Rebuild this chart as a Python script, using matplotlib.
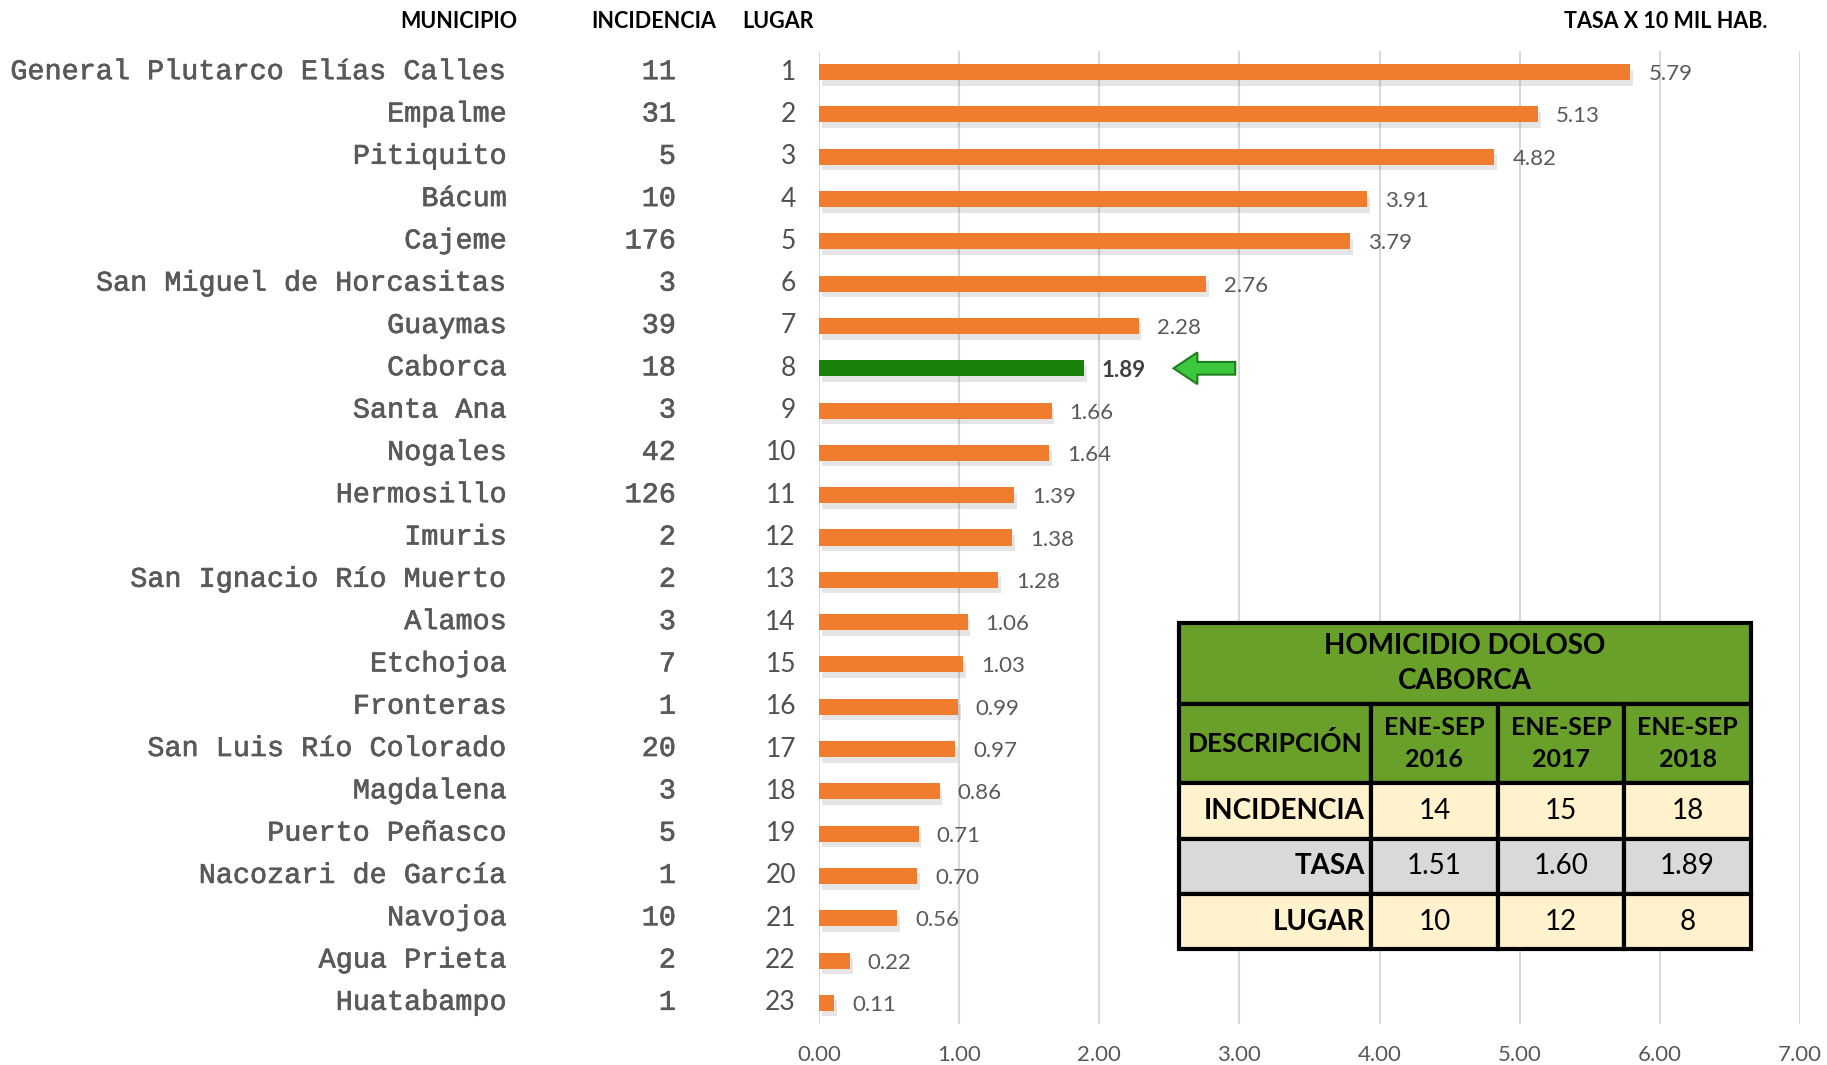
import matplotlib
matplotlib.use('Agg')
import matplotlib.pyplot as plt
import matplotlib.transforms as mtransforms
import matplotlib.patheffects as pe
from matplotlib.patches import Rectangle, FancyArrow

municipios = ["General Plutarco Elías Calles", "Empalme", "Pitiquito", "Bácum",
              "Cajeme", "San Miguel de Horcasitas", "Guaymas", "Caborca",
              "Santa Ana", "Nogales", "Hermosillo", "Imuris",
              "San Ignacio Río Muerto", "Alamos", "Etchojoa", "Fronteras",
              "San Luis Río Colorado", "Magdalena", "Puerto Peñasco",
              "Nacozari de García", "Navojoa", "Agua Prieta", "Huatabampo"]
incidencia = [11, 31, 5, 10, 176, 3, 39, 18, 3, 42, 126, 2, 2, 3, 7, 1, 20, 3,
              5, 1, 10, 2, 1]
lugar = list(range(1, 24))
tasa = [5.79, 5.13, 4.82, 3.91, 3.79, 2.76, 2.28, 1.89, 1.66, 1.64, 1.39, 1.38,
        1.28, 1.06, 1.03, 0.99, 0.97, 0.86, 0.71, 0.70, 0.56, 0.22, 0.11]
resaltado = "Caborca"

tabla_titulo = ["HOMICIDIO DOLOSO", "CABORCA"]
tabla_cols = ["ENE-SEP\n2016", "ENE-SEP\n2017", "ENE-SEP\n2018"]
tabla_filas = ["INCIDENCIA", "TASA", "LUGAR"]
tabla_vals = [["14", "15", "18"], ["1.51", "1.60", "1.89"], ["10", "12", "8"]]

W, H = 1827, 1065
fig = plt.figure(figsize=(W / 100, H / 100), dpi=100)
ax = fig.add_axes([819 / W, 1 - 1024 / H, (1800 - 819) / W, (1024 - 51) / H])

mono = 'Liberation Mono'
sans = ['Lato', 'DejaVu Sans']
gray = '#595959'
thick = [pe.withStroke(linewidth=0.45, foreground=gray)]

y = list(range(len(tasa)))
colors = ['#188208' if m == resaltado else '#F07C2E' for m in municipios]
bars = ax.barh(y, tasa, height=0.38, color=colors, zorder=3)
for b in bars:
    b.set_path_effects([pe.SimplePatchShadow(offset=(2, -4), alpha=0.15,
                                             shadow_rgbFace='#555555'),
                        pe.Normal()])

ax.set_xlim(0, 7)
ax.set_ylim(len(tasa) - 0.5, -0.5)
ax.set_xticks(range(8))
ax.set_xticklabels([f'{v:.2f}' for v in range(8)], family=sans,
                   fontsize=16, color=gray)
ax.set_yticks([])
ax.tick_params(axis='x', length=0, pad=15)
ax.grid(axis='x', color='#D9D9D9', linewidth=1.5, zorder=0)
for s in ax.spines.values():
    s.set_visible(False)

for i, (m, v) in enumerate(zip(municipios, tasa)):
    hl = m == resaltado
    ax.annotate(f'{v:.2f}', (v, i), xytext=(18, -2), textcoords='offset pixels',
                va='center', ha='left', family=sans, fontsize=16,
                color='#404040' if hl else gray,
                fontweight='bold' if hl else 'normal')

tr = mtransforms.blended_transform_factory(fig.transFigure, ax.transData)
for i in y:
    fig.text(507 / W, i, municipios[i], transform=tr, ha='right', va='center',
             family=mono, fontsize=20.5, color=gray, path_effects=thick)
    fig.text(676 / W, i, str(incidencia[i]), transform=tr, ha='right',
             va='center', family=mono, fontsize=20.5, color=gray,
             path_effects=thick)
    fig.text(796 / W, i, str(lugar[i]), transform=tr, ha='right', va='center',
             family=sans, fontsize=19, color='#505050')

# headers
hdr = dict(ha='center', va='center', family=sans, fontsize=15.5,
           fontweight='bold', color='black')
fig.text(459 / W, 1 - 21 / H, 'MUNICIPIO', **hdr)
fig.text(654 / W, 1 - 21 / H, 'INCIDENCIA', **hdr)
fig.text(778 / W, 1 - 21 / H, 'LUGAR', **hdr)
fig.text(1666 / W, 1 - 21 / H, 'TASA X 10 MIL HAB.', **hdr)

# arrow pointing to highlighted bar
k = municipios.index(resaltado)
ax.add_patch(FancyArrow(2.97, k, -0.44, 0, width=0.3, head_width=0.75,
                        head_length=0.17, length_includes_head=True,
                        facecolor='#3CC83C', edgecolor='#1E7E1E', lw=1.5,
                        zorder=4, clip_on=False))

# summary table in pixel coordinates
ov = fig.add_axes([0, 0, 1, 1], facecolor='none')
ov.set_xlim(0, W)
ov.set_ylim(H, 0)
ov.axis('off')
cx = [1179, 1371, 1498, 1624, 1751]
ry = [623, 704, 783, 839, 894, 949]
green = '#68A02A'
fills = ['#FFF2CC', '#D9D9D9', '#FFF2CC']


def cell(x0, x1, y0, y1, fc):
    ov.add_patch(Rectangle((x0, y0), x1 - x0, y1 - y0, facecolor=fc,
                           edgecolor='black', lw=3))


cell(cx[0], cx[4], ry[0], ry[1], green)
ov.text((cx[0] + cx[4]) / 2, (ry[0] + ry[1]) / 2, '\n'.join(tabla_titulo),
        ha='center', va='center', family=sans, fontsize=20, fontweight='bold',
        linespacing=1.45)
cell(cx[0], cx[1], ry[1], ry[2], green)
ov.text((cx[0] + cx[1]) / 2, (ry[1] + ry[2]) / 2, 'DESCRIPCIÓN', ha='center',
        va='center', family=sans, fontsize=19, fontweight='bold')
for j, c in enumerate(tabla_cols):
    cell(cx[j + 1], cx[j + 2], ry[1], ry[2], green)
    ov.text((cx[j + 1] + cx[j + 2]) / 2, (ry[1] + ry[2]) / 2, c, ha='center',
            va='center', family=sans, fontsize=18, fontweight='bold',
            linespacing=1.5)
for r, name in enumerate(tabla_filas):
    y0, y1 = ry[r + 2], ry[r + 3]
    cell(cx[0], cx[1], y0, y1, fills[r])
    ov.text(cx[1] - 6, (y0 + y1) / 2, name, ha='right', va='center',
            family=sans, fontsize=20, fontweight='bold')
    for j in range(3):
        cell(cx[j + 1], cx[j + 2], y0, y1, fills[r])
        ov.text((cx[j + 1] + cx[j + 2]) / 2, (y0 + y1) / 2, tabla_vals[r][j],
                ha='center', va='center', family=sans, fontsize=20)

fig.savefig('out.png', dpi=100)
